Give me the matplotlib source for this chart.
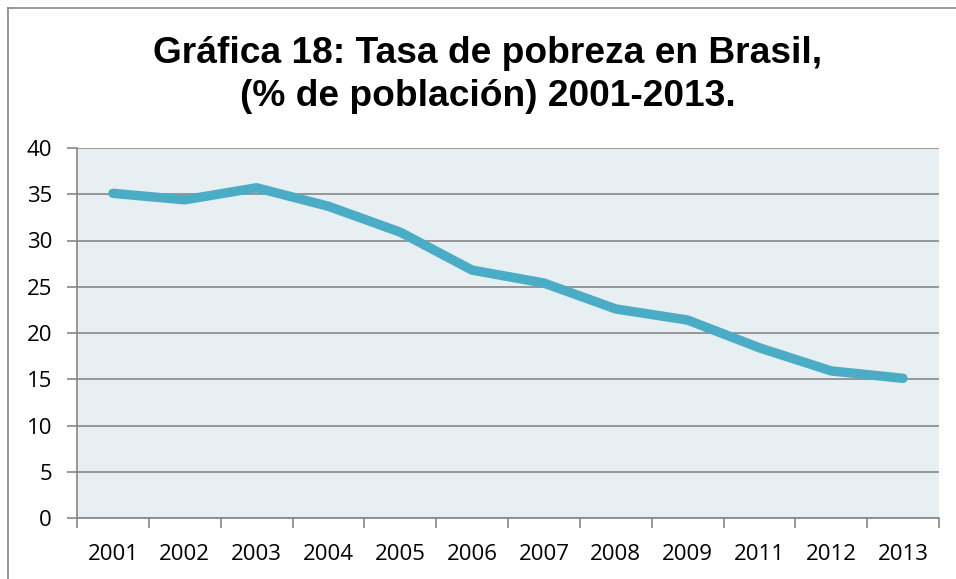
import numpy as np
import matplotlib.pyplot as plt
from matplotlib.lines import Line2D

years = ["2001", "2002", "2003", "2004", "2005", "2006", "2007",
         "2008", "2009", "2011", "2012", "2013"]
pobreza = [35.1, 34.4, 35.7, 33.7, 30.9, 26.8, 25.4,
           22.6, 21.4, 18.4, 15.9, 15.1]
yticks = [0, 5, 10, 15, 20, 25, 30, 35, 40]
title = "Gráfica 18: Tasa de pobreza en Brasil,\n(% de población) 2001-2013."

W, H = 956, 579
fig = plt.figure(figsize=(W / 100, H / 100), dpi=100)
fig.patch.set_facecolor("white")

# outer chart border (cropped on right and bottom)
fig.add_artist(Line2D([8 / W, 8 / W], [0, 1 - 8 / H], transform=fig.transFigure,
                      color="#868686", lw=1.2))
fig.add_artist(Line2D([8 / W, 1], [1 - 8 / H, 1 - 8 / H], transform=fig.transFigure,
                      color="#868686", lw=1.2))

fig.text(488 / W, 1 - 75 / H, title, ha="center", va="center",
         fontsize=26.7, fontweight="bold", family="Liberation Sans",
         linespacing=1.3)

ax = fig.add_axes([77 / W, 61 / H, (939 - 77) / W, (518 - 148) / H])
ax.set_facecolor("#E8EFF3")

x = np.arange(len(years))
ax.plot(x, pobreza, color="#4BACC6", lw=6.8, solid_capstyle="round",
        solid_joinstyle="round", zorder=3)

ax.set_xlim(-0.5, len(years) - 0.5)
ax.set_ylim(0, 40)
ax.set_yticks(yticks)
ax.yaxis.grid(True, color="#878787", lw=1.2)
ax.set_axisbelow(True)

ax.set_xticks(x)
ax.set_xticklabels(years)
ax.set_xticks(np.arange(-0.5, len(years)), minor=True)
ax.tick_params(axis="x", which="major", length=0, pad=19)
ax.tick_params(axis="x", which="minor", length=7, width=1.2, color="#868686")
ax.tick_params(axis="y", length=7, width=1.2, color="#868686", pad=11)

for lab in ax.get_xticklabels() + ax.get_yticklabels():
    lab.set_family("Open Sans")
    lab.set_fontsize(16)

for s in ["top", "right"]:
    ax.spines[s].set_visible(False)
for s in ["left", "bottom"]:
    ax.spines[s].set_color("#868686")
    ax.spines[s].set_linewidth(1.2)

fig.savefig("out.png", dpi=100)
